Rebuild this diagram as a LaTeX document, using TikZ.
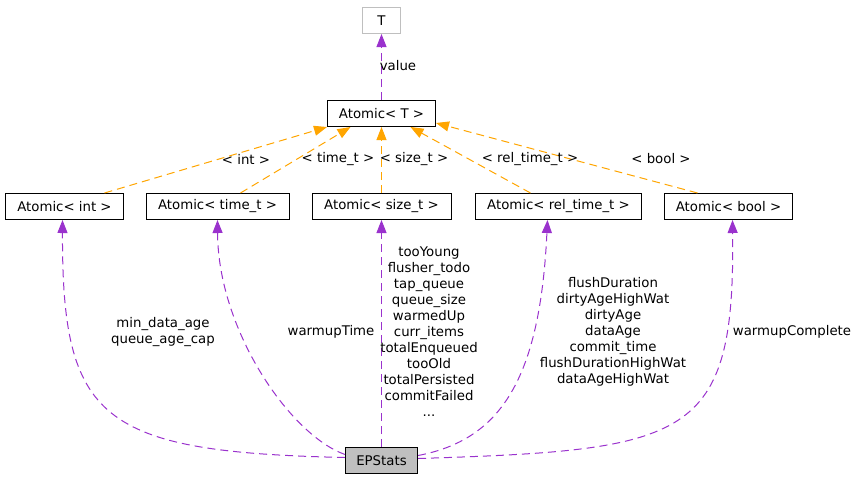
\documentclass[tikz,border=0pt]{standalone}
\usepackage{fontspec}
\setmainfont{DejaVu Sans}
\usetikzlibrary{arrows.meta}
\definecolor{edgepurple}{HTML}{9A32CD}
\definecolor{edgeorange}{HTML}{FFA500}
\definecolor{boxgray}{HTML}{BFBFBF}
\begin{document}
\begin{tikzpicture}[x=1pt,y=-1pt,
  every node/.style={font=\fontsize{13.3}{16}\selectfont, inner sep=0pt},
  cls/.style={draw=black, line width=1pt, minimum height=26pt, anchor=center},
  lbl/.style={align=center, anchor=center},
  usage/.style={draw=edgepurple, line width=1pt, dash pattern=on 8pt off 5pt,
    -{Triangle[length=13pt,width=10pt,fill=edgepurple]}},
  tmpl/.style={draw=edgeorange, line width=1pt, dash pattern=on 8pt off 5pt,
    -{Triangle[length=13pt,width=10pt,fill=edgeorange]}}
]
\useasboundingbox (0,0) rectangle (859,480);

% classes
\node[cls, draw=boxgray, minimum width=38pt] (T) at (381.5,20.5) {T};
\node[cls, minimum width=108pt] (AT) at (381.5,113.5) {Atomic< T >};
\node[cls, minimum width=118pt] (Aint) at (64.5,206.5) {Atomic< int >};
\node[cls, minimum width=143pt] (Atime) at (217.5,206.5) {Atomic< time\_t >};
\node[cls, minimum width=139pt] (Asize) at (381.5,206.5) {Atomic< size\_t >};
\node[cls, minimum width=166pt] (Arel) at (558.5,206.5) {Atomic< rel\_time\_t >};
\node[cls, minimum width=128pt] (Abool) at (728.5,206.5) {Atomic< bool >};
\node[cls, fill=boxgray, minimum width=72pt] (EP) at (381.5,460.5) {EPStats};

% member usage
\draw[usage] (AT.north) -- (T.south);
\node[lbl] (lvalue) at (398,66) {value};

% template instances
\draw[tmpl] ([xshift=40pt]Aint.north) -- (AT.south west);
\draw[tmpl] ([xshift=23pt]Atime.north) -- ([xshift=-31pt]AT.south);
\draw[tmpl] (Asize.north) -- (AT.south);
\draw[tmpl] ([xshift=-28pt]Arel.north) -- ([xshift=29pt]AT.south);
\draw[tmpl] ([xshift=-31pt]Abool.north) -- ([yshift=4pt]AT.south east);
\node[lbl] (lint) at (246,159) {< int >};
\node[lbl] (ltime) at (338,159) {< time\_t >};
\node[lbl] (lsize) at (414,159) {< size\_t >};
\node[lbl] (lrel) at (530,159) {< rel\_time\_t >};
\node[lbl] (lbool) at (661,159) {< bool >};

% members of EPStats
\draw[usage] ([yshift=3pt]EP.west) .. controls (100,452) and (62,420) .. ([xshift=-2pt]Aint.south);
\draw[usage] ([yshift=6pt]EP.west) .. controls (290,435) and (218,330) .. (Atime.south);
\draw[usage] (EP.north) -- (Asize.south);
\draw[usage] ([yshift=5pt]EP.east) .. controls (500,440) and (540,380) .. ([xshift=-11pt]Arel.south);
\draw[usage] ([yshift=2pt]EP.east) .. controls (690,450) and (735,440) .. ([xshift=4pt]Abool.south);

\node[lbl] (mint) at (163,332) {min\_data\_age\\queue\_age\_cap};
\node[lbl] (mtime) at (331,332) {warmupTime};
\node[lbl] (msize) at (429,332) {tooYoung\\flusher\_todo\\tap\_queue\\queue\_size\\warmedUp\\curr\_items\\totalEnqueued\\tooOld\\totalPersisted\\commitFailed\\...};
\node[lbl] (mrel) at (613,332) {flushDuration\\dirtyAgeHighWat\\dirtyAge\\dataAge\\commit\_time\\flushDurationHighWat\\dataAgeHighWat};
\node[lbl] (mbool) at (792,332) {warmupComplete};
\end{tikzpicture}
\end{document}
